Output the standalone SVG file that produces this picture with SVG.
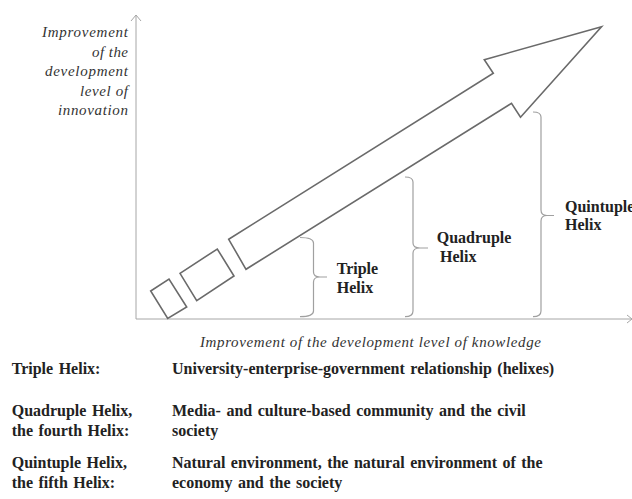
<svg xmlns="http://www.w3.org/2000/svg" width="632" height="499" viewBox="0 0 632 499">
<style>
.ax{fill:none;stroke:#a6a6a6;stroke-width:1}
.br{fill:none;stroke:#a0a0a0;stroke-width:1.2}
.sh{fill:#fff;stroke:#6a6a6a;stroke-width:1.6;stroke-linejoin:miter}
.it{font-family:"Liberation Serif","Times New Roman",serif;font-style:italic;font-size:15px;fill:#333}
.bd{font-family:"Liberation Serif","Times New Roman",serif;font-weight:bold;font-size:16px;fill:#222;word-spacing:1.5px}
.ra{text-anchor:end}
</style>
<rect width="632" height="499" fill="#fff"/>
<g id="axes">
<path class="ax" d="M136,319 V15 M131,21 L136,15 L141,21"/>
<path class="ax" d="M136,319 H632 M627,315 L632,319 L627,323"/>
</g>
<g id="y-label" class="it ra">
<text x="128" y="36.5" textLength="86" lengthAdjust="spacing">Improvement</text>
<text x="128" y="56.5" textLength="36" lengthAdjust="spacing">of the</text>
<text x="128" y="75.5" textLength="83" lengthAdjust="spacing">development</text>
<text x="128" y="95.5" textLength="48" lengthAdjust="spacing">level of</text>
<text x="128" y="114.5" textLength="70" lengthAdjust="spacing">innovation</text>
</g>
<g id="x-label" class="it">
<text x="200" y="347" textLength="341" lengthAdjust="spacing">Improvement of the development level of knowledge</text>
</g>
<g id="shapes">
<polygon class="sh" points="150.7,291 169,279 186.7,307 167.7,318.5"/>
<polygon class="sh" points="180,273.3 217.3,249 234,276 196.7,300.7"/>
<polygon class="sh" points="228.7,239.3 493.3,73.3 484.3,59.7 601.5,26.7 520.5,117.3 511.5,103.3 246,269.3"/>
</g>
<g id="connectors">
<path class="br" d="M300,237.5 Q313.5,237.5 313.5,243 V272 Q313.5,277 320,277 H327 M320,277 Q313.5,277 313.5,282 V311 Q313.5,316.7 300,316.7"/>
<path class="br" d="M405,177 Q413,177 413,182 V243 Q413,248 420,248 H428 M420,248 Q413,248 413,253 V311 Q413,316.7 405,316.7"/>
<path class="br" d="M533,112 Q541,112 541,117 V210 Q541,215.5 547,215.5 H554 M547,215.5 Q541,215.5 541,221 V311 Q541,316.7 533,316.7"/>
</g>
<g id="triple" class="bd">
<text x="336.7" y="274">Triple</text>
<text x="336.7" y="293.3">Helix</text>
</g>
<g id="quadruple" class="bd">
<text x="436.7" y="243.3">Quadruple</text>
<text x="440" y="262.3">Helix</text>
</g>
<g id="quintuple" class="bd">
<text x="565" y="211.7">Quintuple</text>
<text x="565" y="230">Helix</text>
</g>
<g id="legend" class="bd">
<text x="11.7" y="374">Triple Helix:</text>
<text x="172" y="374">University-enterprise-government relationship (helixes)</text>
<text x="11.7" y="415.5">Quadruple Helix,</text>
<text x="11.7" y="435.5">the fourth Helix:</text>
<text x="172" y="415.5">Media- and culture-based community and the civil</text>
<text x="172" y="435.5">society</text>
<text x="11.7" y="467.5">Quintuple Helix,</text>
<text x="11.7" y="487.5">the fifth Helix:</text>
<text x="172" y="467.5">Natural environment, the natural environment of the</text>
<text x="172" y="487.5">economy and the society</text>
</g>
</svg>
